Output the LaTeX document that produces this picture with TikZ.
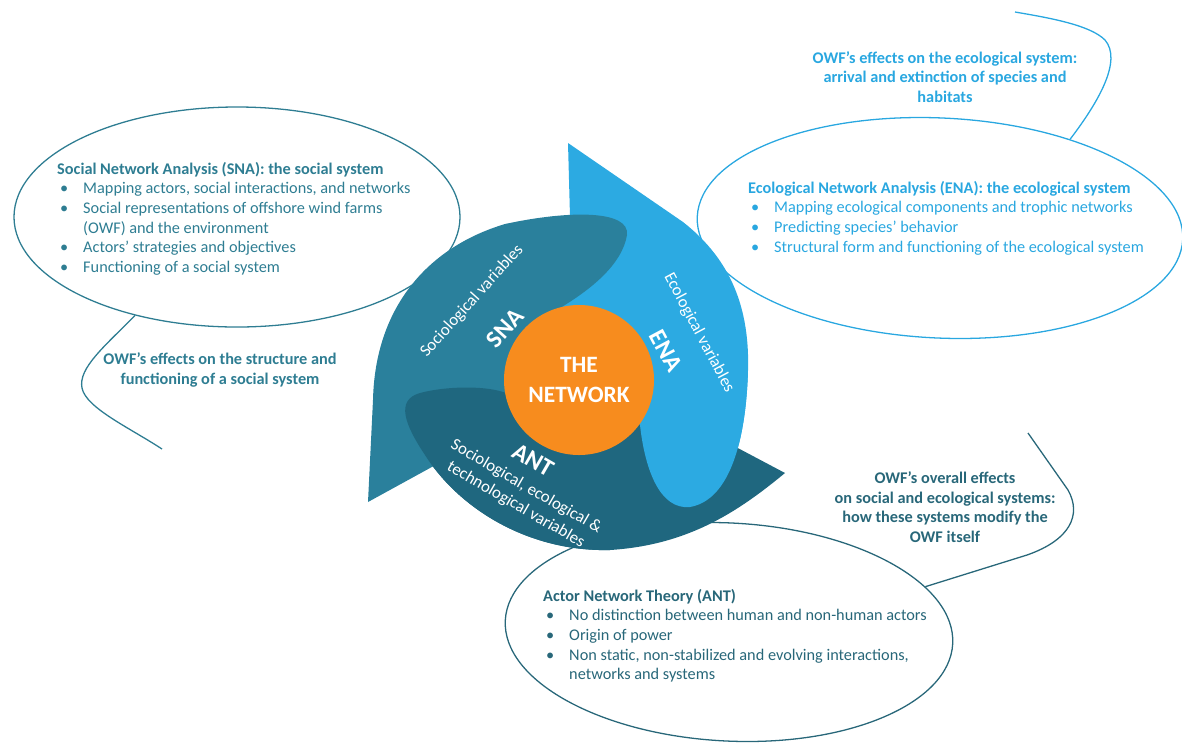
\documentclass[tikz,border=0pt]{standalone}
\usepackage{fontspec}
\setmainfont{Carlito}
\usetikzlibrary{shapes.geometric}

\definecolor{snablue}{RGB}{42,128,156}
\definecolor{antblue}{RGB}{31,103,127}
\definecolor{enablue}{RGB}{44,170,226}
\definecolor{netorange}{RGB}{247,140,30}
\definecolor{snatext}{RGB}{46,125,146}
\definecolor{enatext}{RGB}{41,167,224}
\definecolor{anttext}{RGB}{40,103,121}

\newcommand\bodyfont{\fontsize{13.9}{16.7}\selectfont}
\newcommand\itm{\makebox[0.78cm][l]{\hspace{0.09cm}\textbullet}}
\newcommand\nitm{\makebox[0.78cm]{}}

\tikzstyle{bubble} = [draw, ellipse, line width=1.1pt, inner sep=0pt]
\tikzstyle{tail} = [line width=1.1pt]
\tikzset{listtext/.style={anchor=north west, align=left, inner sep=0pt, font=\bodyfont},
  callout/.style={align=center, inner sep=0pt, font=\bodyfont\bfseries},
  blabel/.style={text=white, align=center, inner sep=0pt,
    font=\fontsize{14.4}{17.8}\selectfont},
  bigtag/.style={text=white, inner sep=0pt, font=\fontsize{21}{24}\selectfont\bfseries}}

\begin{document}
\begin{tikzpicture}[x=0.03cm, y=-0.03cm]
    \useasboundingbox (0,0) rectangle (1182,742);

    % speech bubbles
    \node [bubble, draw=snatext, minimum width=13.38cm, minimum height=6.6cm] (snabub) at (237,217) {};
    \node [bubble, draw=enatext, minimum width=14.58cm, minimum height=6.6cm, rotate=-2.7] (enabub) at (940,228) {};
    \node [bubble, draw=anttext, minimum width=13.44cm, minimum height=6.54cm, rotate=-3] (antbub) at (729,632) {};

    \coordinate (snaend) at (162,449);
    \coordinate (enaend) at (1015,12);
    \coordinate (antend) at (1028,433);
    \draw[tail, snatext] (snabub.224) .. controls (105,346) and (78,368) .. (82,388)
        .. controls (86,408) and (130,428) .. (snaend);
    \draw[tail, enatext] (enabub.37) .. controls (1100,100) and (1122,60) .. (1105,40)
        .. controls (1090,25) and (1050,18) .. (enaend);
    \draw[tail, anttext] (antbub.16) -- (1027,555) .. controls (1070,540) and (1082,515) .. (1068,490)
        -- (antend);

    % the three blades
    \fill[enablue] (568,143) -- (683,222) .. controls (725,255) and (750,300) .. (748,370)
        .. controls (746,440) and (730,500) .. (690,507) .. controls (660,510) and (645,470) .. (640,425)
        -- (579,380) -- (540,300) -- (570,217) -- cycle;
    \fill[antblue] (785,473) .. controls (740,510) and (690,545) .. (610,550)
        .. controls (530,552) and (460,510) .. (425,455) .. controls (405,425) and (395,400) .. (420,393)
        .. controls (450,385) and (500,385) .. (515,398) -- (579,380) -- (700,428) -- cycle;
    \fill[enablue] (748,370) .. controls (746,440) and (730,500) .. (690,507)
        .. controls (660,510) and (645,470) .. (640,425) -- (600,380) -- cycle;
    \fill[snablue] (368,502) -- (373,400) .. controls (375,310) and (425,248) .. (505,224)
        .. controls (570,210) and (630,210) .. (627,235) .. controls (622,265) and (590,290) .. (560,308)
        -- (579,380) -- (500,430) -- (430,468) -- cycle;
    \fill[antblue] (610,550) .. controls (530,552) and (460,510) .. (425,455)
        .. controls (405,425) and (395,400) .. (420,393) .. controls (450,385) and (500,385) .. (515,398)
        -- (579,380) -- (610,450) -- cycle;

    \node [circle, fill=netorange, minimum size=4.5cm, inner sep=0pt, text=white, align=center,
        font=\fontsize{20}{26}\selectfont\bfseries] (net) at (579,380) {THE\\NETWORK};

    \node [blabel, rotate=48] (socvar) at (472,301) {Sociological variables};
    \node [bigtag, rotate=48] (snatag) at (505,328) {SNA};
    \node [blabel, rotate=-62] (ecovar) at (699,333) {Ecological variables};
    \node [bigtag, rotate=-62] (enatag) at (666,351) {ENA};
    \node [bigtag, rotate=-30] (anttag) at (533,460) {ANT};
    \node [blabel, rotate=-30] (antvar) at (521,496) {Sociological, ecological \&\\technological variables};

    % texts in the bubbles
    \node [listtext, text=snatext] (snalist) at (57,162) {\textbf{Social Network Analysis (SNA): the social system}\\
        \itm Mapping actors, social interactions, and networks\\
        \itm Social representations of offshore wind farms\\
        \nitm (OWF) and the environment\\
        \itm Actors’ strategies and objectives\\
        \itm Functioning of a social system};
    \node [listtext, text=enatext] (enalist) at (748,181) {\textbf{Ecological Network Analysis (ENA): the ecological system}\\
        \itm Mapping ecological components and trophic networks\\
        \itm Predicting species’ behavior\\
        \itm Structural form and functioning of the ecological system};
    \node [listtext, text=anttext] (antlist) at (543,589) {\textbf{Actor Network Theory (ANT)}\\
        \itm No distinction between human and non-human actors\\
        \itm Origin of power\\
        \itm Non static, non-stabilized and evolving interactions,\\
        \nitm networks and systems};

    \node [callout, text=snatext] (snanote) at (220,370) {OWF’s effects on the structure and\\functioning of a social system};
    \node [callout, text=enatext] (enanote) at (945,77) {OWF’s effects on the ecological system:\\arrival and extinction of species and\\habitats};
    \node [callout, text=anttext] (antnote) at (945,507) {OWF’s overall effects\\on social and ecological systems:\\how these systems modify the\\OWF itself};
\end{tikzpicture}
\end{document}
